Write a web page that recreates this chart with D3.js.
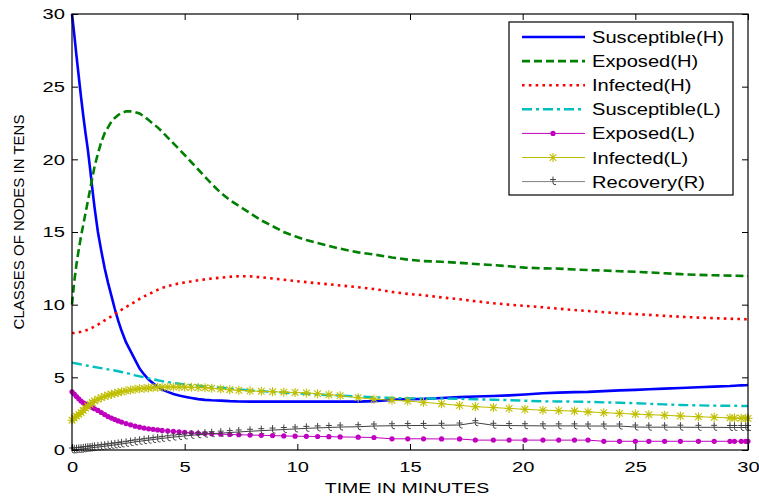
<!DOCTYPE html>
<html>
<head>
<meta charset="utf-8">
<script src="https://cdn.jsdelivr.net/npm/d3@7"></script>
<style>
  body { margin: 0; background: #fff; }
  text { font-family: "Liberation Sans", Arial, sans-serif; fill: #000; }
</style>
</head>
<body>
<div id="chart"></div>
<script>
// solver time steps (minutes)
const time = [0, 0.1, 0.2, 0.3, 0.4, 0.5, 0.6, 0.7, 0.8, 0.9,
  1.0, 1.15, 1.3, 1.45, 1.6, 1.75, 1.9, 2.05, 2.2, 2.4,
  2.6, 2.8, 3.0, 3.2, 3.4, 3.6, 3.8, 4.0, 4.25, 4.5,
  4.75, 5.0, 5.3, 5.6, 5.9, 6.2, 6.6, 7.0, 7.4, 7.9,
  8.4, 8.9, 9.4, 9.9, 10.4, 10.9, 11.4, 11.9, 12.7, 13.4,
  14.2, 14.9, 15.6, 16.4, 17.2, 17.9, 18.7, 19.4, 20.1, 20.9,
  21.6, 22.3, 22.9, 23.6, 24.3, 25.0, 25.6, 26.3, 27.0, 27.8,
  28.5, 29.2, 29.4, 29.7, 29.9, 30];

const susceptibleH = [30, 28.6, 27.1, 25.7, 24.3, 23.0, 21.8, 20.7, 19.4, 18.0,
  16.7, 15.0, 13.7, 12.5, 11.5, 10.6, 9.7, 8.9, 8.2, 7.4,
  6.8, 6.2, 5.6, 5.2, 4.85, 4.6, 4.35, 4.15, 4.0, 3.85,
  3.75, 3.67, 3.58, 3.5, 3.45, 3.42, 3.4, 3.36, 3.34, 3.33,
  3.33, 3.33, 3.33, 3.33, 3.33, 3.33, 3.33, 3.33, 3.33, 3.36,
  3.45, 3.5, 3.52, 3.58, 3.64, 3.68, 3.72, 3.76, 3.82, 3.9,
  3.95, 3.98, 4.0, 4.05, 4.1, 4.14, 4.18, 4.22, 4.27, 4.32,
  4.36, 4.4, 4.42, 4.45, 4.46, 4.47];

const exposedH = [10.0, 11.6, 12.8, 13.8, 14.7, 15.5, 16.3, 17.1, 17.9, 18.7,
  19.5, 20.4, 21.2, 21.8, 22.2, 22.6, 22.85, 23.05, 23.2, 23.3,
  23.3, 23.25, 23.15, 22.95, 22.7, 22.45, 22.2, 21.9, 21.5, 21.1,
  20.7, 20.3, 19.8, 19.3, 18.8, 18.3, 17.7, 17.2, 16.8, 16.3,
  15.8, 15.4, 15.0, 14.7, 14.45, 14.25, 14.05, 13.85, 13.6, 13.45,
  13.25, 13.1, 13.0, 12.95, 12.88, 12.8, 12.72, 12.64, 12.55, 12.5,
  12.48, 12.42, 12.38, 12.35, 12.3, 12.26, 12.22, 12.16, 12.1, 12.05,
  12.02, 12.0, 11.99, 11.98, 11.96, 11.95];

const infectedH = [8.05, 8.05, 8.07, 8.1, 8.13, 8.17, 8.22, 8.28, 8.35, 8.42,
  8.5, 8.63, 8.77, 8.92, 9.06, 9.2, 9.35, 9.5, 9.65, 9.84,
  10.02, 10.2, 10.4, 10.57, 10.72, 10.87, 11.02, 11.15, 11.27, 11.38,
  11.46, 11.53, 11.6, 11.68, 11.74, 11.8, 11.86, 11.92, 11.96, 11.95,
  11.88, 11.8, 11.72, 11.63, 11.55, 11.47, 11.4, 11.32, 11.2, 11.08,
  10.88, 10.74, 10.65, 10.5, 10.37, 10.24, 10.1, 10.0, 9.92, 9.82,
  9.72, 9.63, 9.56, 9.48, 9.41, 9.35, 9.3, 9.23, 9.17, 9.11,
  9.07, 9.03, 9.02, 9.01, 9.0, 9.0];

const susceptibleL = [6.0, 5.98, 5.95, 5.92, 5.89, 5.86, 5.83, 5.8, 5.77, 5.74,
  5.71, 5.67, 5.63, 5.59, 5.55, 5.51, 5.47, 5.42, 5.37, 5.3,
  5.22, 5.14, 5.07, 5.0, 4.93, 4.87, 4.8, 4.74, 4.67, 4.61,
  4.56, 4.51, 4.46, 4.42, 4.38, 4.34, 4.29, 4.23, 4.17, 4.1,
  4.05, 4.0, 3.95, 3.9, 3.86, 3.82, 3.78, 3.74, 3.68, 3.63,
  3.58, 3.56, 3.55, 3.54, 3.52, 3.49, 3.46, 3.43, 3.39, 3.35,
  3.34, 3.33, 3.31, 3.28, 3.25, 3.22, 3.18, 3.14, 3.1, 3.07,
  3.05, 3.04, 3.04, 3.03, 3.03, 3.03];

const exposedL = [4.0, 3.85, 3.68, 3.52, 3.37, 3.25, 3.15, 3.07, 2.99, 2.92,
  2.84, 2.72, 2.58, 2.44, 2.3, 2.2, 2.1, 2.0, 1.92, 1.82,
  1.73, 1.64, 1.57, 1.51, 1.46, 1.42, 1.38, 1.35, 1.31, 1.28,
  1.25, 1.22, 1.18, 1.15, 1.13, 1.11, 1.09, 1.07, 1.05, 1.03,
  1.01, 0.99, 0.97, 0.95, 0.94, 0.93, 0.92, 0.9, 0.88, 0.86,
  0.77, 0.77, 0.77, 0.76, 0.76, 0.68, 0.68, 0.68, 0.68, 0.68,
  0.68, 0.68, 0.68, 0.6, 0.6, 0.6, 0.6, 0.6, 0.6, 0.6,
  0.6, 0.6, 0.6, 0.6, 0.6, 0.6];

const infectedL = [2.05, 2.2, 2.33, 2.45, 2.58, 2.72, 2.88, 3.02, 3.15, 3.27,
  3.38, 3.5, 3.6, 3.69, 3.77, 3.84, 3.9, 3.96, 4.01, 4.07,
  4.13, 4.18, 4.21, 4.24, 4.27, 4.29, 4.31, 4.32, 4.33, 4.34,
  4.34, 4.33, 4.32, 4.3, 4.28, 4.25, 4.2, 4.15, 4.11, 4.07,
  4.04, 4.01, 3.98, 3.96, 3.93, 3.87, 3.8, 3.74, 3.6, 3.5,
  3.42, 3.37, 3.28, 3.18, 3.07, 2.98, 2.92, 2.86, 2.8, 2.74,
  2.71, 2.68, 2.62, 2.57, 2.52, 2.47, 2.43, 2.39, 2.34, 2.29,
  2.25, 2.21, 2.2, 2.19, 2.18, 2.18];

const recovery = [0, 0.01, 0.03, 0.04, 0.06, 0.08, 0.1, 0.12, 0.14, 0.16,
  0.18, 0.2, 0.23, 0.26, 0.29, 0.32, 0.35, 0.38, 0.42, 0.46,
  0.51, 0.56, 0.6, 0.64, 0.68, 0.72, 0.76, 0.8, 0.84, 0.89,
  0.93, 0.97, 1.01, 1.05, 1.09, 1.12, 1.16, 1.2, 1.24, 1.29,
  1.33, 1.37, 1.41, 1.45, 1.49, 1.52, 1.55, 1.58, 1.6, 1.65,
  1.67, 1.68, 1.69, 1.7, 1.72, 1.88, 1.7, 1.68, 1.67, 1.66,
  1.66, 1.66, 1.65, 1.65, 1.65, 1.58, 1.57, 1.57, 1.57, 1.56,
  1.56, 1.55, 1.55, 1.55, 1.55, 1.55];

const xTicks = [0, 5, 10, 15, 20, 25, 30];
const yTicks = [0, 5, 10, 15, 20, 25, 30];

const seriesNames = ["Susceptible(H)", "Exposed(H)", "Infected(H)", "Susceptible(L)",
                     "Exposed(L)", "Infected(L)", "Recovery(R)"];
const seriesValues = [susceptibleH, exposedH, infectedH, susceptibleL, exposedL, infectedL, recovery];

// styles, same order as the names
const styles = [
  {color: "#0000ff", width: 2.6, dash: null, marker: null},
  {color: "#008000", width: 2.6, dash: "8,4", marker: null},
  {color: "#ff0000", width: 2.6, dash: "2.6,4.2", marker: null},
  {color: "#00bfbf", width: 2.4, dash: "10,4,3,4", marker: null},
  {color: "#bf00bf", width: 1, dash: null, marker: "dot"},
  {color: "#bfbf00", width: 1, dash: null, marker: "star"},
  {color: "#404040", width: 1, dash: null, marker: "tee"}
];

const W = 759, H = 499;
const margin = {left: 72, right: 11, top: 14, bottom: 49};
const TX = 1.3; // glyphs in the original are wider than Arial

const svg = d3.select("#chart").append("svg")
    .attr("width", W)
    .attr("height", H);

const x = d3.scaleLinear().domain([0, 30]).range([margin.left, W - margin.right]);
const y = d3.scaleLinear().domain([0, 30]).range([H - margin.bottom, margin.top]);

const plot = svg.append("g");

// inward ticks on all four sides, like matlab
const bottom = svg.append("g")
    .attr("transform", `translate(0,${y(0)})`)
    .call(d3.axisBottom(x).tickValues(xTicks).tickSize(-6).tickSizeOuter(0).tickPadding(11));
const left = svg.append("g")
    .attr("transform", `translate(${x(0)},0)`)
    .call(d3.axisLeft(y).tickValues(yTicks).tickSize(-6).tickSizeOuter(0).tickPadding(5.4));
svg.append("g")
    .attr("transform", `translate(0,${y(30)})`)
    .call(d3.axisTop(x).tickValues(xTicks).tickSize(-6).tickSizeOuter(0).tickFormat(""));
svg.append("g")
    .attr("transform", `translate(${x(30)},0)`)
    .call(d3.axisRight(y).tickValues(yTicks).tickSize(-6).tickSizeOuter(0).tickFormat(""));

svg.selectAll(".domain").remove();
svg.selectAll(".tick line").attr("stroke", "#000");
[bottom, left].forEach(g => g.selectAll("text")
    .attr("font-size", 15.5)
    .attr("font-family", "Liberation Sans, Arial, sans-serif")
    .attr("fill", "#000")
    .attr("transform", `scale(${TX},1)`));

svg.append("rect")
    .attr("x", x(0)).attr("y", y(30))
    .attr("width", x(30) - x(0)).attr("height", y(0) - y(30))
    .attr("fill", "none").attr("stroke", "#000").attr("stroke-width", 1.2);

// axis titles
svg.append("text")
    .attr("transform", `translate(407,493) scale(${TX},1)`)
    .attr("text-anchor", "middle")
    .attr("font-size", 15)
    .text("TIME IN MINUTES");
svg.append("text")
    .attr("transform", "translate(24,222) rotate(-90)")
    .attr("text-anchor", "middle")
    .attr("font-size", 15)
    .text("CLASSES OF NODES IN TENS");

const line = d3.line()
    .x((d, i) => x(time[i]))
    .y(d => y(d));

function drawMarker(g, kind, color) {
  if (kind === "dot") {
    g.append("circle").attr("r", 2.6).attr("fill", color);
  } else if (kind === "star") {
    g.append("path")
      .attr("d", "M-4.5,0H4.5M0,-4.5V4.5M-3.3,-3.3L3.3,3.3M-3.3,3.3L3.3,-3.3")
      .attr("stroke", color).attr("stroke-width", 1.1).attr("fill", "none");
  } else if (kind === "tee") {
    g.append("path")
      .attr("d", "M-3,-2H3M0,-5V1Q0,3 2,3H3")
      .attr("stroke", color).attr("stroke-width", 1).attr("fill", "none");
  }
}

seriesValues.forEach((vals, k) => {
  const st = styles[k];
  plot.append("path")
      .datum(vals)
      .attr("d", line)
      .attr("fill", "none")
      .attr("stroke", st.color)
      .attr("stroke-width", st.width)
      .attr("stroke-dasharray", st.dash);
  if (st.marker) {
    plot.append("g").selectAll("g")
      .data(vals)
      .join("g")
      .attr("transform", (d, i) => `translate(${x(time[i])},${y(d)})`)
      .each(function() { drawMarker(d3.select(this), st.marker, st.color); });
  }
});

// legend
const lg = svg.append("g");
lg.append("rect")
    .attr("x", 509).attr("y", 22)
    .attr("width", 224).attr("height", 173)
    .attr("fill", "#fff").attr("stroke", "#000").attr("stroke-width", 1.2);

seriesNames.forEach((name, k) => {
  const st = styles[k];
  const ly = 37 + k * 24.1;
  lg.append("line")
      .attr("x1", 522).attr("x2", 585)
      .attr("y1", ly).attr("y2", ly)
      .attr("stroke", k === 6 ? "#808080" : st.color)
      .attr("stroke-width", st.width)
      .attr("stroke-dasharray", st.dash);
  if (st.marker) {
    drawMarker(lg.append("g").attr("transform", `translate(553,${ly})`), st.marker, st.color);
  }
  lg.append("text")
      .attr("transform", `translate(592,${ly + 6}) scale(1.22,1)`)
      .attr("font-size", 16.5)
      .text(name);
});
</script>
</body>
</html>
